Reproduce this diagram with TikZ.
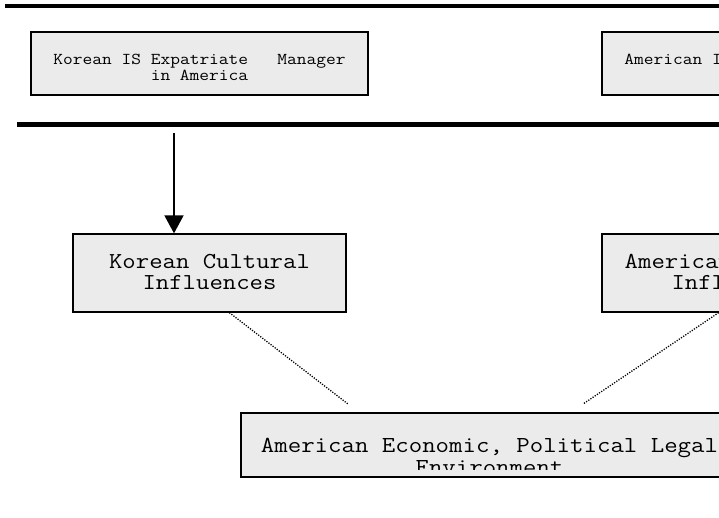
\documentclass[tikz,border=0pt]{standalone}
\usepackage{fontspec}
\newfontfamily\courfont[FakeStretch=1.14]{Latin Modern Mono}
\usetikzlibrary{arrows.meta,calc}
\definecolor{boxgray}{HTML}{EBEBEB}
\begin{document}
\begin{tikzpicture}[x=1pt,y=-1pt,
  box/.style={draw=black, line width=1.3pt, fill=boxgray, inner sep=0pt, align=center},
  smalltxt/.style={font=\courfont\fontsize{16.6}{16}\selectfont, text height=35pt, text depth=0pt},
  bigtxt/.style={font=\courfont\fontsize{22.8}{21}\selectfont, text height=34pt, text depth=0pt},
  envtxt/.style={font=\courfont\fontsize{22.9}{21.5}\selectfont},
  rule/.style={line width=4.5pt},
  dotline/.style={line width=1.3pt, dash pattern=on 1.2pt off 1.4pt}]
\useasboundingbox (0,0) rectangle (719,518);
\clip (0,0) rectangle (719,518);
% thick rules
\draw[rule] (5,6) -- (719,6);
\draw[rule] (17,124.5) -- (719,124.5);
% top boxes
\node[box, smalltxt, minimum width=337pt, minimum height=63pt] (a) at (199.5,63.5) {Korean IS Expatriate\ \ \ Manager\\in America};
\node[box, smalltxt, minimum width=337pt, minimum height=63pt] (b) at (770.5,63.5) {American IS Expatriate Manager\\in Korea};
% cultural boxes
\node[box, bigtxt, minimum width=273pt, minimum height=78pt] (c) at (209.5,273) {Korean Cultural\\Influences};
\node[box, bigtxt, minimum width=273pt, minimum height=78pt] (d) at (738.5,273) {American Cultural\\Influences};
% environment box
\node[box, minimum width=497pt, minimum height=64pt] (e) at (489.5,445) {};
\begin{scope}
  \clip (241,413) rectangle (738,469.5);
  \node[envtxt, inner sep=0pt, align=center, anchor=base] (etext) at (489.5,474) {American Economic, Political Legal\\Environment};
\end{scope}
% arrow
\coordinate (atop) at (174,133);
\draw[line width=1.8pt, -{Triangle[length=18pt,width=19pt]}] (atop) -- (atop |- c.north);
% dotted connectors
\coordinate (c1) at ($(c.south west)+(157,0)$);
\coordinate (e1) at (348,404);
\coordinate (d1) at ($(d.south east)+(-157,0)$);
\coordinate (e2) at (583,404);
\draw[dotline] (c1) -- (e1);
\draw[dotline] (d1) -- (e2);
\end{tikzpicture}
\end{document}
